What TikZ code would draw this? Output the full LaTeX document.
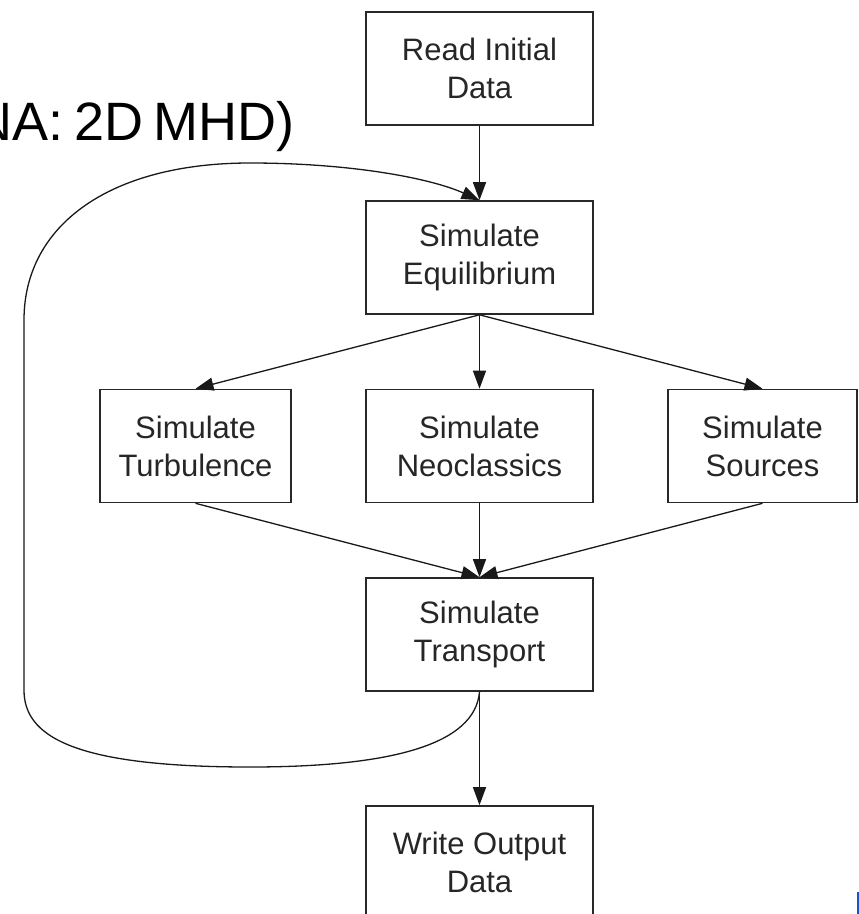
\documentclass[tikz,border=0pt]{standalone}
\usepackage{fontspec}
\setmainfont{Liberation Sans}
\newfontfamily\titlefont[WordSpace=0.7]{Liberation Sans}
\usepackage{xcolor}
\usetikzlibrary{arrows.meta,positioning}
\definecolor{edge}{RGB}{40,40,40}
\definecolor{markblue}{RGB}{30,80,200}

\begin{document}
\begin{tikzpicture}[x=1pt,y=-1pt]
\tikzset{stage/.style={draw=edge,line width=1.6pt,minimum height=113pt,align=center,
    text=black!85,font=\fontsize{31}{38}\selectfont,inner sep=0pt},
  flow/.style={-{Triangle[length=18pt,width=13pt]},line width=1.3pt,draw=black!90}}
\useasboundingbox (0,0) rectangle (859,914);
\clip (0,0) rectangle (859,914);
\node[anchor=base east,inner sep=0pt,font=\titlefont\fontsize{54}{60}\selectfont] (title) at (295,140) {NA: 2D MHD)};
\node[stage,minimum width=227pt] (read) at (479.5,68.5) {Read Initial\\Data};
\node[stage,minimum width=227pt] (equil) at (479.5,257.5) {Simulate\\Equilibrium};
\node[stage,minimum width=191pt] (turb) at (195.5,446) {Simulate\\Turbulence};
\node[stage,minimum width=227pt] (neo) at (479.5,446) {Simulate\\Neoclassics};
\node[stage,minimum width=189pt] (src) at (762.5,446) {Simulate\\Sources};
\node[stage,minimum width=227pt] (trans) at (479.5,634.5) {Simulate\\Transport};
\node[stage,minimum width=227pt] (write) at (479.5,862.5) {Write Output\\Data};
\draw[flow] (read) -- (equil);
\draw[flow] (equil.south) -- (turb.north);
\draw[flow] (equil.south) -- (neo.north);
\draw[flow] (equil.south) -- (src.north);
\draw[flow] (turb.south) -- (trans.north);
\draw[flow] (neo.south) -- (trans.north);
\draw[flow] (src.south) -- (trans.north);
\draw[flow] (trans) -- (write);
% loop back to the equilibrium step
\draw[flow] (trans.south) .. controls (475,745) and (390,767) .. (250,767)
  .. controls (70,767) and (24,735) .. (24,690) -- (24,320)
  .. controls (24,225) and (110,163) .. (250,163)
  .. controls (350,163) and (430,178) .. (equil.north);
\fill[markblue] (857,892) rectangle (860,915);
\end{tikzpicture}
\end{document}
